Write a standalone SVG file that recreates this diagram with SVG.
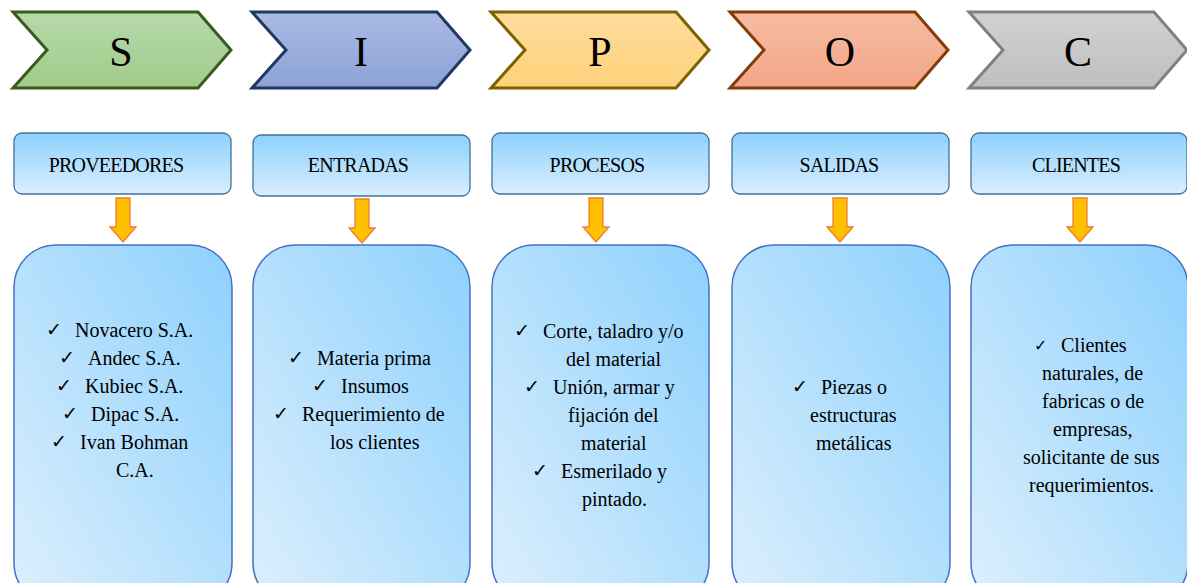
<svg xmlns="http://www.w3.org/2000/svg" width="1187" height="583" viewBox="0 0 1187 583">
<style>
.chev{stroke-width:3;stroke-linejoin:miter}
.let{font-family:"Liberation Serif","Times New Roman",serif;font-size:42px;text-anchor:middle;fill:#000}
.hdr{fill:url(#gHdr);stroke:#41719C;stroke-width:1.3}
.htxt{font-family:"Liberation Serif","Times New Roman",serif;font-size:20px;text-anchor:middle;fill:#000;letter-spacing:-0.8px}
.body{fill:url(#gBody);stroke:#4472C4;stroke-width:1.5}
.t{font-family:"Liberation Serif","Times New Roman",serif;font-size:20px;fill:#000}
.ck{font-family:"DejaVu Sans",sans-serif;font-size:19px;fill:#000}
.arr{fill:#FFC000;stroke:#ED7D31;stroke-width:1.3}
</style>
<defs>
<linearGradient id="gS" x1="0" y1="0" x2="0" y2="1"><stop offset="0" stop-color="#B6D9AA"/><stop offset="1" stop-color="#A0CB89"/></linearGradient>
<linearGradient id="gI" x1="0" y1="0" x2="0" y2="1"><stop offset="0" stop-color="#AABAE2"/><stop offset="1" stop-color="#8CA2D7"/></linearGradient>
<linearGradient id="gP" x1="0" y1="0" x2="0" y2="1"><stop offset="0" stop-color="#FEDC9C"/><stop offset="1" stop-color="#FED27A"/></linearGradient>
<linearGradient id="gO" x1="0" y1="0" x2="0" y2="1"><stop offset="0" stop-color="#F6BCA4"/><stop offset="1" stop-color="#F4A586"/></linearGradient>
<linearGradient id="gC" x1="0" y1="0" x2="0" y2="1"><stop offset="0" stop-color="#D2D2D2"/><stop offset="1" stop-color="#BEBEBE"/></linearGradient>
<linearGradient id="gHdr" x1="0" y1="0" x2="0" y2="1"><stop offset="0" stop-color="#8DD1FD"/><stop offset="1" stop-color="#DAEEFD"/></linearGradient>
<linearGradient id="gBody" x1="0" y1="1" x2="1" y2="0"><stop offset="0" stop-color="#DDEFFD"/><stop offset="1" stop-color="#8DD1FD"/></linearGradient>
</defs>

<g id="chevrons">
<g id="chev-S"><polygon class="chev" fill="url(#gS)" stroke="#3B5A1F" points="13,12 198,12 231,50 198,88 13,88 47,50"/><text class="let" x="121" y="66">S</text></g>
<g id="chev-I"><polygon class="chev" fill="url(#gI)" stroke="#1F3864" points="252,12 437,12 470,50 437,88 252,88 286,50"/><text class="let" x="361" y="66">I</text></g>
<g id="chev-P"><polygon class="chev" fill="url(#gP)" stroke="#7F6000" points="491,12 676,12 709,50 676,88 491,88 525,50"/><text class="let" x="600" y="66">P</text></g>
<g id="chev-O"><polygon class="chev" fill="url(#gO)" stroke="#843C0C" points="730,12 915,12 948,50 915,88 730,88 764,50"/><text class="let" x="840" y="66">O</text></g>
<g id="chev-C"><polygon class="chev" fill="url(#gC)" stroke="#808080" points="969,12 1154,12 1187,50 1154,88 969,88 1003,50"/><text class="let" x="1078" y="66">C</text></g>
</g>

<g id="headers">
<g id="h-S"><rect class="hdr" x="14" y="133" width="217" height="61" rx="8"/><text class="htxt" x="116" y="172">PROVEEDORES</text></g>
<g id="h-I"><rect class="hdr" x="253" y="135" width="217" height="61" rx="8"/><text class="htxt" x="358" y="172">ENTRADAS</text></g>
<g id="h-P"><rect class="hdr" x="492" y="133" width="217" height="61" rx="8"/><text class="htxt" x="597" y="172">PROCESOS</text></g>
<g id="h-O"><rect class="hdr" x="732" y="133" width="217" height="61" rx="8"/><text class="htxt" x="839" y="172">SALIDAS</text></g>
<g id="h-C"><rect class="hdr" x="971" y="133" width="216" height="61" rx="8"/><text class="htxt" x="1076" y="172">CLIENTES</text></g>
</g>

<g id="connectors">
<polygon class="arr" points="116,198 130,198 130,227 136,227 123,242 110,227 116,227"/>
<polygon class="arr" points="355,199 369,199 369,228 375,228 362,243 349,228 355,228"/>
<polygon class="arr" points="589,198 603,198 603,227 609,227 596,242 583,227 589,227"/>
<polygon class="arr" points="833,198 847,198 847,227 853,227 840,242 827,227 833,227"/>
<polygon class="arr" points="1073,198 1087,198 1087,227 1093,227 1080,242 1067,227 1073,227"/>
</g>

<g id="b-S"><rect class="body" x="14" y="245" width="218" height="360" rx="42"/>
<text class="ck" x="46" y="336">✓</text><text class="t" x="75" y="337">Novacero S.A.</text>
<text class="ck" x="59" y="364">✓</text><text class="t" x="88" y="365">Andec S.A.</text>
<text class="ck" x="56" y="392">✓</text><text class="t" x="85" y="393">Kubiec S.A.</text>
<text class="ck" x="62" y="420">✓</text><text class="t" x="91" y="421">Dipac S.A.</text>
<text class="ck" x="51" y="448">✓</text><text class="t" x="80" y="449">Ivan Bohman</text>
<text class="t" x="116" y="477">C.A.</text>
</g>

<g id="b-I"><rect class="body" x="253" y="245" width="217" height="360" rx="42"/>
<text class="ck" x="288" y="364">✓</text><text class="t" x="317" y="365">Materia prima</text>
<text class="ck" x="312" y="392">✓</text><text class="t" x="341" y="393">Insumos</text>
<text class="ck" x="273" y="420">✓</text><text class="t" x="302" y="421">Requerimiento de</text>
<text class="t" x="330" y="449">los clientes</text>
</g>

<g id="b-P"><rect class="body" x="492" y="245" width="217" height="360" rx="42"/>
<text class="ck" x="514" y="337">✓</text><text class="t" x="543" y="338">Corte, taladro y/o</text>
<text class="t" x="566" y="366">del material</text>
<text class="ck" x="524" y="393">✓</text><text class="t" x="553" y="394">Unión, armar y</text>
<text class="t" x="568" y="422">fijación del</text>
<text class="t" x="581" y="450">material</text>
<text class="ck" x="532" y="477">✓</text><text class="t" x="561" y="478">Esmerilado y</text>
<text class="t" x="582" y="506">pintado.</text>
</g>

<g id="b-O"><rect class="body" x="732" y="245" width="218" height="360" rx="42"/>
<text class="ck" x="792" y="393">✓</text><text class="t" x="821" y="394">Piezas o</text>
<text class="t" x="810" y="422">estructuras</text>
<text class="t" x="816" y="450">metálicas</text>
</g>

<g id="b-C"><rect class="body" x="971" y="245" width="217" height="360" rx="42"/>
<text class="ck" x="1034" y="351" style="font-size:16px">✓</text><text class="t" x="1061" y="352">Clientes</text>
<text class="t" x="1042" y="380">naturales, de</text>
<text class="t" x="1042" y="408">fabricas o de</text>
<text class="t" x="1053" y="436">empresas,</text>
<text class="t" x="1023" y="464">solicitante de sus</text>
<text class="t" x="1029" y="492">requerimientos.</text>
</g>
</svg>
